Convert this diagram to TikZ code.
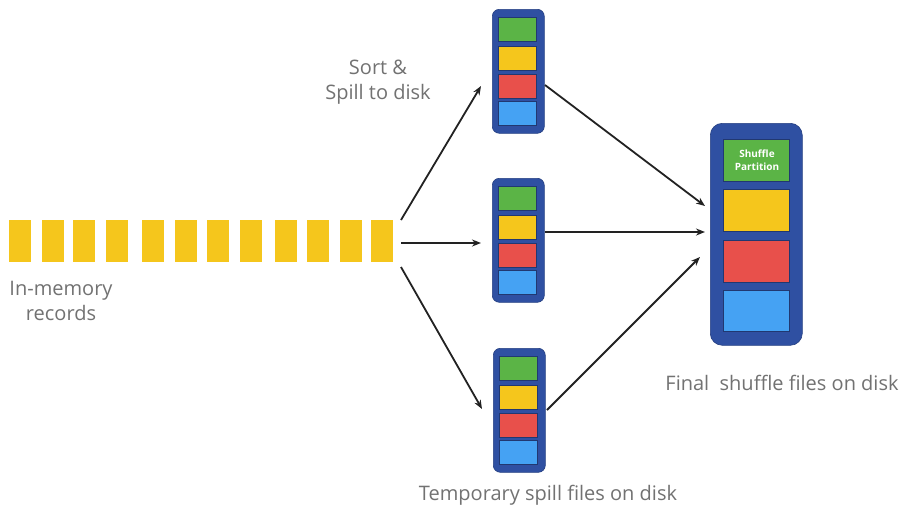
\documentclass[tikz,border=0pt]{standalone}
\usepackage{fontspec}
\setmainfont{Open Sans}
\usetikzlibrary{arrows.meta}
\definecolor{frameblue}{HTML}{2F50A2}
\definecolor{cgreen}{HTML}{5BB446}
\definecolor{cyellow}{HTML}{F5C61C}
\definecolor{cred}{HTML}{E8504B}
\definecolor{cblue}{HTML}{45A2F3}
\definecolor{txtgray}{HTML}{727272}
\definecolor{arrgray}{HTML}{222222}
\tikzset{
  rec/.style={fill=cyellow, draw=none},
  colframe/.style={fill=frameblue, draw=frameblue!80!black, line width=0.6pt, rounded corners=7pt, inner sep=0pt},
  slot/.style={draw=frameblue!70!black, line width=0.4pt},
  lbl/.style={text=txtgray, font=\fontsize{20}{25}\selectfont, align=center, inner sep=0pt},
  arr/.style={draw=arrgray, line width=1.8pt, -{Stealth[length=9pt,width=7pt]}}
}
\begin{document}
\begin{tikzpicture}[x=1pt,y=-1pt]
\useasboundingbox (0,0) rectangle (903,507);
\fill[white] (0,0) rectangle (903,507);
% in-memory records
\foreach \x [count=\i] in {9,42,73,106,142,175,207,240,275,307,340,371}{
  \node[rec, minimum width=22pt, minimum height=42pt, inner sep=0pt, anchor=north west] (r\i) at (\x,220) {};
}
\node[lbl] (inmem) at (61,301) {In-memory\\records};
% spill columns
\newcommand{\spillcol}[3]{% name, left x, top y
  \node[colframe, minimum width=52pt, minimum height=124pt, anchor=north west] (#1) at (#2,#3) {};
  \fill[cgreen, slot] (#2+6,#3+8) rectangle (#2+44,#3+32);
  \fill[cyellow, slot] (#2+6,#3+37) rectangle (#2+44,#3+61);
  \fill[cred, slot] (#2+6,#3+65) rectangle (#2+44,#3+89);
  \fill[cblue, slot] (#2+6,#3+92) rectangle (#2+44,#3+116);
}
\spillcol{c1}{492}{9}
\spillcol{c2}{492}{178}
\spillcol{c3}{493}{348}
% final column
\node[colframe, rounded corners=12pt, minimum width=92pt, minimum height=222pt, anchor=north west] (fin) at (710,123) {};
\fill[cgreen, slot] (723,139) rectangle (789,181);
\node[text=white, font=\bfseries\fontsize{10}{13}\selectfont, align=center, inner sep=0pt] (sp) at (757,160) {Shuffle\\Partition};
\fill[cyellow, slot] (723,189) rectangle (789,231);
\fill[cred, slot] (723,240) rectangle (789,282);
\fill[cblue, slot] (723,290) rectangle (789,331);
% labels
\node[lbl] (sort) at (378,82) {Sort \&\\Spill to disk};
\node[lbl] (tmp) at (548,495) {Temporary spill files on disk};
\node[lbl] (finl) at (782,383) {Final\ \ shuffle files on disk};
% connector endpoints
\coordinate (a1) at (401,220);
\coordinate (a2) at (401,243);
\coordinate (a3) at (401,267);
\coordinate (e1) at (481,86);
\coordinate (e2) at (481,243);
\coordinate (e3) at (482,409);
\coordinate (s1) at (545,85);
\coordinate (s2) at (545,232);
\coordinate (s3) at (547,410);
\coordinate (f1) at (705,206);
\coordinate (f2) at (705,232);
\coordinate (f3) at (700,257);
\draw[arr] (a1) -- (e1);
\draw[arr] (a2) -- (e2);
\draw[arr] (a3) -- (e3);
\draw[arr] (s1) -- (f1);
\draw[arr] (s2) -- (f2);
\draw[arr] (s3) -- (f3);
\end{tikzpicture}
\end{document}
